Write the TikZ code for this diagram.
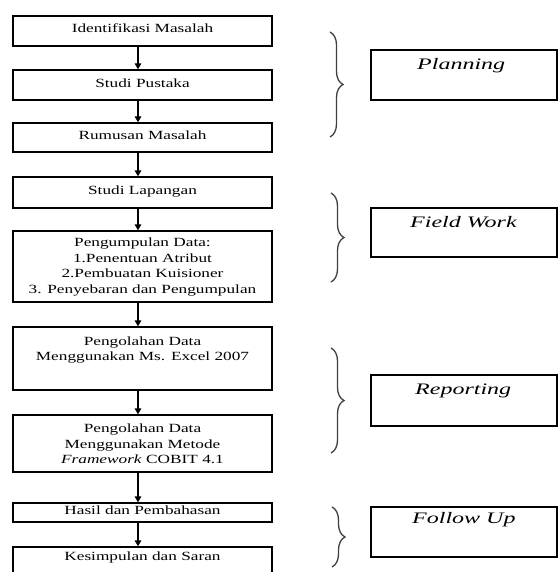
\documentclass[tikz,border=0pt]{standalone}
\usepackage{fontspec}
\usepackage{graphicx}
\setmainfont{Liberation Serif}
\usetikzlibrary{decorations.pathreplacing,arrows.meta}
\newcommand{\widetxt}[1]{\scalebox{1.38}[1]{\begin{tabular}{@{}c@{}}#1\end{tabular}}}
\newcommand{\widelbl}[1]{\scalebox{1.5}[1]{#1}}
\tikzset{
  stepbox/.style={draw=black, line width=1.3pt, inner sep=0pt, minimum width=259pt},
  phasebox/.style={draw=black, line width=1.3pt, inner sep=0pt, minimum width=186pt},
  steptext/.style={align=center, inner sep=0pt, font=\fontsize{12.5}{15.5}\selectfont},
  phasetext/.style={anchor=west, inner sep=0pt, font=\fontsize{16}{18}\selectfont\itshape},
  flow/.style={line width=1.3pt, -{Triangle[length=6pt,width=6.5pt]}},
  phasebrace/.style={decorate, decoration={brace, amplitude=13pt}, line width=1.3pt, draw=black!75}
}
\begin{document}
\begin{tikzpicture}[x=1pt,y=-1pt]
\useasboundingbox (0,0) rectangle (558,572);
\fill[white] (0,0) rectangle (558,572);
% left flow boxes
\node[stepbox, minimum height=30pt] (b1) at (142.5,31) {};
\node[stepbox, minimum height=30pt] (b2) at (142.5,85) {};
\node[stepbox, minimum height=29pt] (b3) at (142.5,137.5) {};
\node[stepbox, minimum height=31pt] (b4) at (142.5,192.5) {};
\node[stepbox, minimum height=71pt] (b5) at (142.5,266.5) {};
\node[stepbox, minimum height=63pt] (b6) at (142.5,358.5) {};
\node[stepbox, minimum height=57pt] (b7) at (142.5,443.5) {};
\node[stepbox, minimum height=19pt] (b8) at (142.5,512.5) {};
\node[stepbox, minimum height=38pt] (b9) at (142.5,566) {};
% texts
\node[steptext] (t1) at (142.5,29) {\widetxt{Identifikasi Masalah}};
\node[steptext] (t2) at (142.5,84) {\widetxt{Studi Pustaka}};
\node[steptext] (t3) at (142.5,136) {\widetxt{Rumusan Masalah}};
\node[steptext] (t4) at (142.5,191) {\widetxt{Studi Lapangan}};
\node[steptext] (t5) at (142.5,267) {\widetxt{Pengumpulan Data:\\1.Penentuan Atribut\\2.Pembuatan Kuisioner\\3. Penyebaran dan Pengumpulan}};
\node[steptext] (t6) at (142.5,350) {\widetxt{Pengolahan Data\\Menggunakan Ms. Excel 2007}};
\node[steptext] (t7) at (142.5,445) {\widetxt{Pengolahan Data\\Menggunakan Metode\\\textit{Framework} COBIT 4.1}};
\node[steptext] (t8) at (142.5,511) {\widetxt{Hasil dan Pembahasan}};
\node[steptext] (t9) at (142.5,557) {\widetxt{Kesimpulan dan Saran}};
% arrows
\coordinate (ax) at (138,0);
\foreach \a/\b in {b1/b2,b2/b3,b3/b4,b4/b5,b5/b6,b6/b7,b7/b8,b8/b9}{
  \draw[flow] (\a.south -| ax) -- (\b.north -| ax);
}
% right phase boxes
\node[phasebox, minimum height=50pt] (r1) at (464,75) {};
\node[phasebox, minimum height=49pt] (r2) at (464,232.5) {};
\node[phasebox, minimum height=51pt] (r3) at (464,400.5) {};
\node[phasebox, minimum height=50pt] (r4) at (464,532) {};
\node[phasetext] (p1) at (417,66) {\widelbl{Planning}};
\node[phasetext] (p2) at (410,222) {\widelbl{Field Work}};
\node[phasetext] (p3) at (415,391) {\widelbl{Reporting}};
\node[phasetext] (p4) at (412,520) {\widelbl{Follow Up}};
% braces
\coordinate (c1a) at (330,32);  \coordinate (c1b) at (330,137);
\coordinate (c2a) at (331,193); \coordinate (c2b) at (331,282);
\coordinate (c3a) at (331,348); \coordinate (c3b) at (331,453);
\coordinate (c4a) at (332,507); \coordinate (c4b) at (332,567);
\draw[phasebrace] (c1a) -- (c1b);
\draw[phasebrace] (c2a) -- (c2b);
\draw[phasebrace] (c3a) -- (c3b);
\draw[phasebrace] (c4a) -- (c4b);
\end{tikzpicture}
\end{document}
